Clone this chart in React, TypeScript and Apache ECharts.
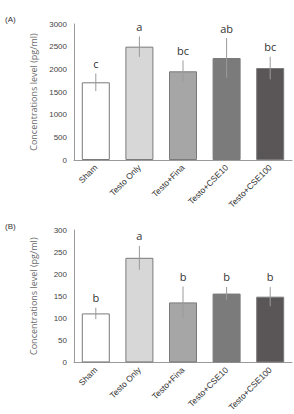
import React, { useEffect, useRef } from "react";
import * as echarts from "echarts";

const categories = ["Sham", "Testo Only", "Testo+Fina", "Testo+CSE10", "Testo+CSE100"];
const colors = ["#ffffff", "#d7d7d7", "#a6a6a6", "#7b7b7b", "#5a5658"];

const meanA = [1714, 2500, 1956, 2250, 2029];
const sdA = [195, 225, 240, 440, 250];
const letterA = ["c", "a", "bc", "ab", "bc"];

const meanB = [111, 237, 136, 156, 149];
const sdB = [13, 27, 36, 15, 22];
const letterB = ["b", "a", "b", "b", "b"];

const yTitle = "Concentrations level (pg/ml)";

function errSeries(mean: number[], sd: number[], letters: string[], idx: number) {
  return {
    type: "custom",
    xAxisIndex: idx,
    yAxisIndex: idx,
    z: 5,
    itemStyle: { color: "#333" },
    data: mean.map((m, i) => [i, m, sd[i]]),
    renderItem: (params: any, api: any) => {
      const x = api.value(0);
      const m = api.value(1);
      const s = api.value(2);
      const top = api.coord([x, m + s]);
      const bot = api.coord([x, m - s]);
      return {
        type: "group",
        children: [
          {
            type: "line",
            shape: { x1: top[0], y1: top[1], x2: bot[0], y2: bot[1] },
            style: { stroke: "#9a9a9a", lineWidth: 1 },
          },
          {
            type: "text",
            x: top[0],
            y: top[1] - 10,
            style: {
              text: letters[params.dataIndex],
              fill: "#333333",
              fontSize: 11,
              fontFamily: "Open Sans",
              align: "center",
              verticalAlign: "middle",
            },
          },
        ],
      };
    },
  };
}

export default function App() {
  const ref = useRef<HTMLDivElement>(null);
  useEffect(() => {
    const chart = echarts.init(ref.current!, null, { renderer: "svg" });
    const xAxisBase = (gi: number) => ({
      type: "category",
      gridIndex: gi,
      data: categories,
      axisLine: { lineStyle: { color: "#9a9a9a" } },
      axisTick: { show: false },
      axisLabel: {
        rotate: 45,
        interval: 0,
        margin: 6,
        fontSize: 8.5,
        fontFamily: "Liberation Sans",
        color: "#333",
      },
    });
    const yAxisBase = (gi: number, max: number, interval: number) => ({
      type: "value",
      gridIndex: gi,
      min: 0,
      max,
      interval,
      name: yTitle,
      nameLocation: "middle",
      nameGap: 36,
      nameTextStyle: { fontSize: 9, color: "#6a6a6a", fontFamily: "Open Sans" },
      axisLine: { show: true, lineStyle: { color: "#9a9a9a" } },
      axisTick: { show: false },
      splitLine: { show: false },
      axisLabel: {
        fontSize: 8,
        color: "#444",
        margin: 7,
        fontFamily: "Liberation Sans",
        formatter: (v: number) => String(v),
      },
    });
    const barSeries = (vals: number[], idx: number) => ({
      type: "bar",
      xAxisIndex: idx,
      yAxisIndex: idx,
      barWidth: 28,
      data: vals.map((v, i) => ({
        value: v,
        itemStyle: { color: colors[i], borderColor: "#7a7a7a", borderWidth: 1 },
      })),
    });
    chart.setOption({
      animation: false,
      grid: [
        { left: 74, right: 2, top: 24, height: 136 },
        { left: 74, right: 2, top: 230, height: 135 },
      ],
      xAxis: [xAxisBase(0), xAxisBase(1)],
      yAxis: [yAxisBase(0, 3000, 500), yAxisBase(1, 300, 50)],
      graphic: [
        { type: "text", left: 5, top: 15, style: { text: "(A)", font: "8px 'Liberation Sans'", fill: "#333" } },
        { type: "text", left: 5, top: 222, style: { text: "(B)", font: "8px 'Liberation Sans'", fill: "#333" } },
      ],
      series: [
        barSeries(meanA, 0),
        barSeries(meanB, 1),
        errSeries(meanA, sdA, letterA, 0),
        errSeries(meanB, sdB, letterB, 1),
      ],
    });
    return () => chart.dispose();
  }, []);
  return (
    <div
      ref={ref}
      style={{ position: "absolute", left: 0, top: 0, width: 294, height: 414, background: "#fff" }}
    />
  );
}
